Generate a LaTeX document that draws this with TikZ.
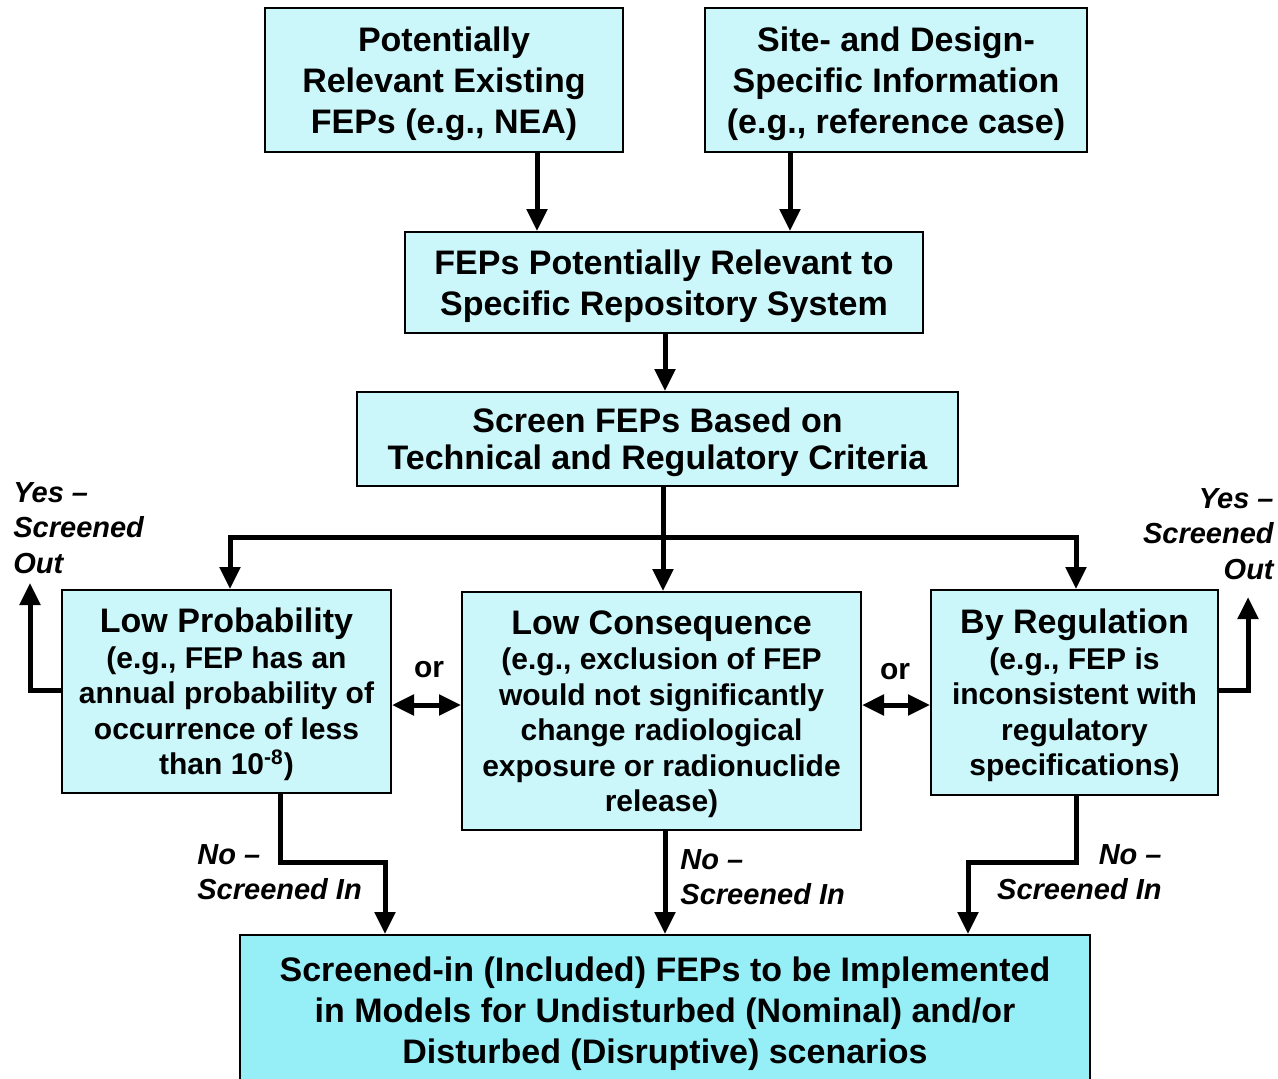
\documentclass[tikz,border=0pt]{standalone}
\usepackage{fontspec}
\setmainfont{Liberation Sans}
\usetikzlibrary{arrows.meta,calc}
\definecolor{boxfill}{RGB}{204,247,250}
\definecolor{finalfill}{RGB}{150,238,247}
\begin{document}
\begin{tikzpicture}[x=0.5pt,y=-0.5pt,
  box/.style={draw=black,line width=1pt,fill=boxfill,inner sep=0pt,align=center,text depth=0pt,
    font=\bfseries\fontsize{17}{20.5}\selectfont},
  critbox/.style={box,font=\bfseries\fontsize{15}{17.75}\selectfont},
  flow/.style={line width=2.5pt,-{Triangle[width=10pt,length=11pt]}},
  both/.style={line width=2.5pt,{Triangle[width=10pt,length=11pt]}-{Triangle[width=10pt,length=11pt]}},
  plain/.style={line width=2.5pt},
  tag/.style={inner sep=0pt,font=\bfseries\itshape\fontsize{14.5}{17.75}\selectfont},
  ortag/.style={inner sep=0pt,font=\bfseries\fontsize{15}{18}\selectfont}
]
\useasboundingbox (0,0) rectangle (1278,1078);
\clip (0,0) rectangle (1278,1078);

% sources
\node[box,minimum width=179pt,minimum height=72pt] (A) at (444,80)
  {Potentially\\Relevant Existing\\FEPs (e.g., NEA)};
\node[box,minimum width=191pt,minimum height=72pt] (B) at (896,80)
  {Site- and Design-\\Specific Information\\(e.g., reference case)};

% merged set and screening step
\node[box,minimum width=259pt,minimum height=50.5pt] (C) at (664,282.5)
  {FEPs Potentially Relevant to\\Specific Repository System};
\node[box,minimum width=300.5pt,minimum height=47pt,
  font=\bfseries\fontsize{17}{18.5}\selectfont] (D) at (657.5,439)
  {Screen FEPs Based on\\Technical and Regulatory Criteria};

% screening criteria
\node[critbox,minimum width=164.5pt,minimum height=101.5pt] (E) at (226.5,691.5)
  {{\fontsize{17}{18.5}\selectfont Low Probability}\\(e.g., FEP has an\\annual probability of\\occurrence of less\\than 10\textsuperscript{-8})};
\node[critbox,minimum width=199.5pt,minimum height=119pt] (F) at (661.5,711)
  {{\fontsize{17}{18.5}\selectfont Low Consequence}\\(e.g., exclusion of FEP\\would not significantly\\change radiological\\exposure or radionuclide\\release)};
\node[critbox,minimum width=143.5pt,minimum height=102.5pt] (G) at (1074.5,692.5)
  {{\fontsize{17}{18.5}\selectfont By Regulation}\\(e.g., FEP is\\inconsistent with\\regulatory\\specifications)};

% result
\node[box,fill=finalfill,minimum width=425pt,minimum height=75pt] (H) at (665,1010)
  {Screened-in (Included) FEPs to be Implemented\\in Models for Undisturbed (Nominal) and/or\\Disturbed (Disruptive) scenarios};

% top connectors
\draw[flow] (A.south -| 537,0) -- (C.north -| 537,0);
\draw[flow] (B.south -| 790,0) -- (C.north -| 790,0);
\draw[flow] (C.south -| 665,0) -- (D.north -| 665,0);

% distribution bus
\coordinate (bus) at (663,537);
\draw[plain] (D.south -| bus) -- (bus);
\draw[flow] (bus) -| (E.north -| 230,0);
\draw[flow] (bus) -- (F.north -| bus);
\draw[flow] (bus) -| (G.north -| 1076,0);

% alternatives
\draw[both] (E.east |- 0,705) -- (F.west |- 0,705);
\draw[both] (F.east |- 0,705) -- (G.west |- 0,705);
\node[ortag] (or1) at (429,670) {or};
\node[ortag] (or2) at (895,672) {or};

% screened out
\coordinate (outL) at (30,583);
\coordinate (outR) at (1248,597);
\draw[flow] (E.west |- 0,690) -| (outL);
\draw[flow] (G.east |- 0,690) -| (outR);
\node[tag,anchor=west,align=left] (yesL) at (13,528) {Yes –\\Screened\\Out};
\node[tag,anchor=east,align=right] (yesR) at (1274,534) {Yes –\\Screened\\Out};

% screened in
\draw[flow] (E.south -| 280,0) -- (280,862) -| (H.north -| 385,0);
\draw[flow] (F.south -| 665,0) -- (H.north -| 665,0);
\draw[flow] (G.south -| 1076,0) -- (1076,862) -| (H.north -| 968,0);
\node[tag,anchor=west,align=left] (noL) at (197,872) {No –\\Screened In};
\node[tag,anchor=west,align=left] (noC) at (680,877) {No –\\Screened In};
\node[tag,anchor=east,align=right] (noR) at (1162,872) {No –\\Screened In};
\end{tikzpicture}
\end{document}
